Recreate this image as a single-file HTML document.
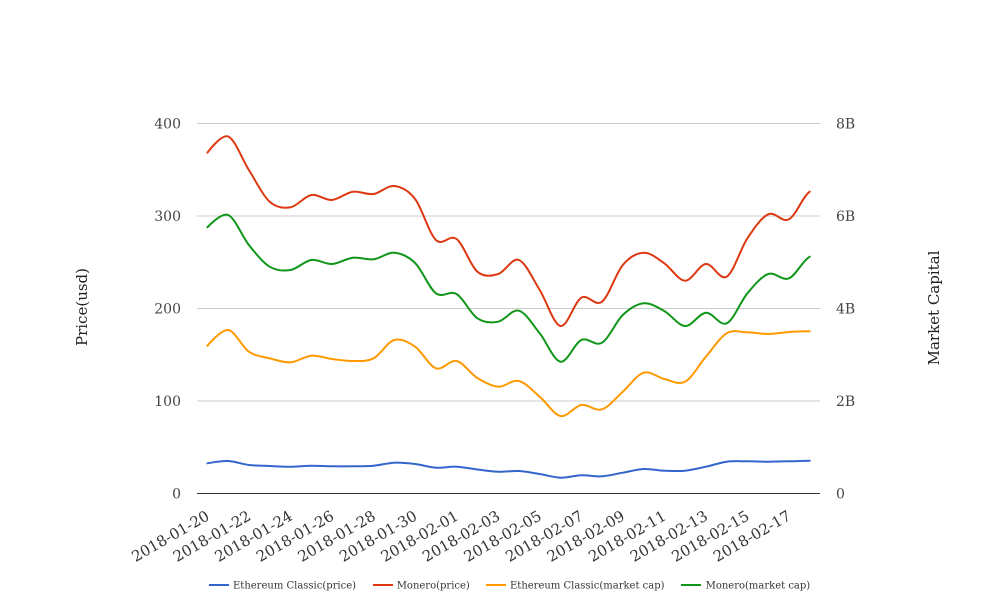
<!DOCTYPE html>
<html><head><meta charset="utf-8"><style>
html,body{margin:0;padding:0;background:#fff;}
svg{display:block;font-family:"DejaVu Serif","Liberation Serif",serif;}
</style></head><body>
<svg width="1008" height="616" viewBox="0 0 1008 616" xmlns="http://www.w3.org/2000/svg">
<rect width="1008" height="616" fill="#fff"/>
<g stroke="#cccccc" stroke-width="1">
<line x1="197" y1="123.5" x2="820" y2="123.5"/>
<line x1="197" y1="216" x2="820" y2="216"/>
<line x1="197" y1="308.5" x2="820" y2="308.5"/>
<line x1="197" y1="401" x2="820" y2="401"/>
</g>
<line x1="197" y1="493.5" x2="820" y2="493.5" stroke="#333" stroke-width="1"/>
<g font-size="14" fill="#444" text-anchor="end">
<text x="181" y="128.5">400</text>
<text x="181" y="221">300</text>
<text x="181" y="313.5">200</text>
<text x="181" y="406">100</text>
<text x="181" y="498.5">0</text>
</g>
<g font-size="14" fill="#444" text-anchor="start">
<text x="836" y="128.5">8B</text>
<text x="836" y="221">6B</text>
<text x="836" y="313.5">4B</text>
<text x="836" y="406">2B</text>
<text x="836" y="498.5">0</text>
</g>
<text transform="translate(87,307) rotate(-90)" font-size="15" fill="#222" text-anchor="middle">Price(usd)</text>
<text transform="translate(939,308) rotate(-90)" font-size="15" fill="#222" text-anchor="middle">Market Capital</text>
<g font-size="15" fill="#333" text-anchor="end">
<text transform="translate(210.4,519) rotate(-30)">2018-01-20</text>
<text transform="translate(251.9,519) rotate(-30)">2018-01-22</text>
<text transform="translate(293.5,519) rotate(-30)">2018-01-24</text>
<text transform="translate(335,519) rotate(-30)">2018-01-26</text>
<text transform="translate(376.6,519) rotate(-30)">2018-01-28</text>
<text transform="translate(418.1,519) rotate(-30)">2018-01-30</text>
<text transform="translate(459.6,519) rotate(-30)">2018-02-01</text>
<text transform="translate(501.2,519) rotate(-30)">2018-02-03</text>
<text transform="translate(542.7,519) rotate(-30)">2018-02-05</text>
<text transform="translate(584.3,519) rotate(-30)">2018-02-07</text>
<text transform="translate(625.8,519) rotate(-30)">2018-02-09</text>
<text transform="translate(667.3,519) rotate(-30)">2018-02-11</text>
<text transform="translate(708.9,519) rotate(-30)">2018-02-13</text>
<text transform="translate(750.4,519) rotate(-30)">2018-02-15</text>
<text transform="translate(792,519) rotate(-30)">2018-02-17</text>
</g>
<g fill="none" stroke-width="2" stroke-linejoin="round" stroke-linecap="round">
<path stroke="#3366cc" d="M207.4,463.3 S221.3,460.7 228.2,461 S242.0,464.2 248.9,465 S262.8,465.7 269.7,466 S283.6,466.75 290.5,466.7 S304.4,465.77 311.3,465.7 S325.1,466.2 332.0,466.3 S345.9,466.4 352.8,466.3 S366.7,466.3 373.6,465.7 S387.4,463.0 394.3,462.7 S408.2,463.2 415.1,464 S429.0,467.25 435.9,467.7 S449.7,466.4 456.6,466.7 S470.5,468.7 477.4,469.5 S491.3,471.45 498.2,471.7 S512.0,470.6 518.9,471 S532.8,472.9 539.7,474 S553.6,477.5 560.5,477.7 S574.4,475.5 581.3,475.3 S595.1,476.7 602.0,476.3 S615.9,473.9 622.8,472.7 S636.7,469.3 643.6,469 S657.4,470.4 664.3,470.7 S678.2,471.4 685.1,470.7 S699.0,468.2 705.9,466.7 S719.8,462.6 726.7,461.7 S740.5,461.3 747.4,461.3 S761.3,461.7 768.2,461.7 S782.1,461.5 789.0,461.3 S802.8,460.8 809.7,460.7"/>
<path stroke="#ff9900" d="M207.4,345.7 S221.3,329 228.2,330 S242.0,347.0 248.9,351.7 S262.8,356.5 269.7,358.3 S283.6,362.7 290.5,362.3 S304.4,356.3 311.3,355.7 S325.1,358.1 332.0,359 S345.9,361.1 352.8,361 S366.7,361.8 373.6,358.3 S387.4,341.9 394.3,340 S408.2,342.0 415.1,346.7 S429.0,365.9 435.9,368.3 S449.7,359.4 456.6,361 S470.5,373.7 477.4,378 S491.3,386.2 498.2,386.7 S512.0,379.3 518.9,381 S532.8,390.9 539.7,396.7 S553.6,414.6 560.5,416 S574.4,406.1 581.3,405 S595.1,411.5 602.0,409.3 S615.9,397.8 622.8,391.7 S636.7,374.8 643.6,372.7 S657.4,377.5 664.3,379 S678.2,385.4 685.1,381.7 S699.0,364.8 705.9,356.7 S719.8,337.4 726.7,333.3 S740.5,332.2 747.4,332.3 S761.3,334.1 768.2,334 S782.1,332.5 789.0,332 S802.8,331.4 809.7,331.3"/>
<path stroke="#109618" d="M207.4,227.3 S221.3,212.1 228.2,215 S242.0,236.4 248.9,245 S262.8,262.5 269.7,266.7 S283.6,271.1 290.5,270 S304.4,261 311.3,260 S325.1,264.4 332.0,264 S345.9,258.5 352.8,257.7 S366.7,260.1 373.6,259.3 S387.4,252.1 394.3,252.7 S408.2,256.2 415.1,263 S429.0,288.1 435.9,293.3 S449.7,289.8 456.6,294 S470.5,313.7 477.4,318.3 S491.3,323.0 498.2,321.7 S512.0,308.8 518.9,310.7 S532.8,324.8 539.7,333.3 S553.6,360.6 560.5,361.7 S574.4,343.2 581.3,340 S595.1,346.9 602.0,342.7 S615.9,321.6 622.8,315 S636.7,304.0 643.6,303.3 S657.4,307.2 664.3,311 S678.2,325.7 685.1,326 S699.0,313.2 705.9,312.7 S719.8,326.5 726.7,323.3 S740.5,301.5 747.4,293.3 S761.3,276.5 768.2,274 S782.1,281.2 789.0,278.3 S802.8,260.3 809.7,256.7"/>
<path stroke="#dc3912" d="M207.4,152.7 S221.3,133.6 228.2,136.5 S242.0,159.1 248.9,170 S262.8,195.5 269.7,201.7 S283.6,208.4 290.5,207.3 S304.4,196.2 311.3,195 S325.1,200.6 332.0,200 S345.9,192.7 352.8,191.7 S366.7,195.0 373.6,194 S387.4,185.2 394.3,186 S408.2,190 415.1,199 S429.0,233.3 435.9,240 S449.7,233.7 456.6,239 S470.5,265.9 477.4,271.7 S491.3,276.0 498.2,274 S512.0,257.3 518.9,260 S532.8,279 539.7,290 S553.6,324.7 560.5,326 S574.4,301.8 581.3,297.7 S595.1,307.2 602.0,301.7 S615.9,273.2 622.8,265 S636.7,253.0 643.6,252.7 S657.4,258.6 664.3,263.3 S678.2,280.6 685.1,280.7 S699.0,264.7 705.9,264 S719.8,281.0 726.7,276.7 S740.5,248.7 747.4,238.3 S761.3,217.5 768.2,214.3 S782.1,223.1 789.0,219.3 S802.8,196.3 809.7,191.7"/>
</g>
<g stroke-width="2">
<line x1="209" y1="585" x2="229" y2="585" stroke="#3366cc"/>
<line x1="373" y1="585" x2="393" y2="585" stroke="#dc3912"/>
<line x1="486" y1="585" x2="506" y2="585" stroke="#ff9900"/>
<line x1="681" y1="585" x2="701" y2="585" stroke="#109618"/>
</g>
<g font-size="10" fill="#333">
<text x="233" y="588.5">Ethereum Classic(price)</text>
<text x="396.7" y="588.5">Monero(price)</text>
<text x="510" y="588.5">Ethereum Classic(market cap)</text>
<text x="705.6" y="588.5">Monero(market cap)</text>
</g>
</svg>
</body></html>
